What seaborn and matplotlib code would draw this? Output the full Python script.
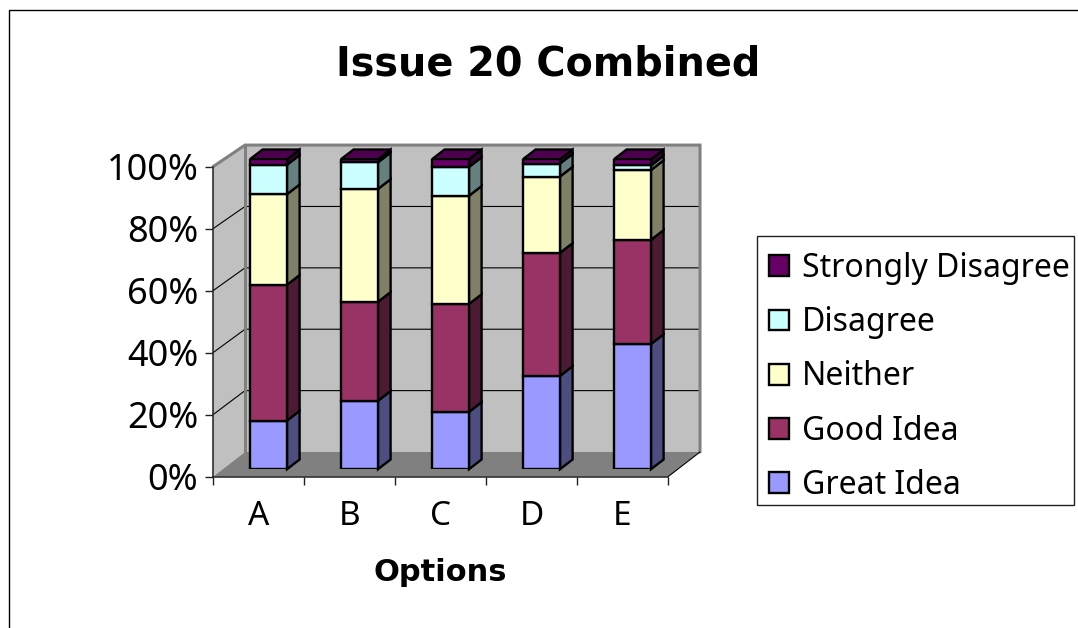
import matplotlib
matplotlib.use("Agg")
import matplotlib.pyplot as plt
import matplotlib.patches as mpatches
import seaborn as sns

categories = ["A", "B", "C", "D", "E"]
great_idea = [15.7, 22.1, 18.5, 30.1, 40.4]
good_idea = [43.8, 31.9, 34.8, 39.7, 33.6]
neither = [29.2, 36.4, 34.9, 24.6, 22.5]
disagree = [9.5, 8.6, 9.3, 4.2, 1.5]
strongly_disagree = [1.8, 1.0, 2.5, 1.4, 2.0]

series_names = ["Great Idea", "Good Idea", "Neither", "Disagree", "Strongly Disagree"]
series_values = [great_idea, good_idea, neither, disagree, strongly_disagree]
front_colors = ["#9999FF", "#993366", "#FFFFCC", "#CCFFFF", "#660066"]
side_colors = ["#4D4D80", "#4D1A33", "#808066", "#668080", "#330033"]
top_color = "#4D004D"
y_ticks = [0, 20, 40, 60, 80, 100]

W, H = 1078, 628
BOLD_FONT = "DejaVu Sans"

sns.set_style("white")
plt.rcParams["font.family"] = ["Noto Sans", "DejaVu Sans"]
plt.rcParams["text.color"] = "black"
plt.rcParams["axes.labelcolor"] = "black"
plt.rcParams["xtick.labelcolor"] = "black"
plt.rcParams["ytick.labelcolor"] = "black"

PX_X = 91.0   # pixels per category
PX_Y = 3.1    # pixels per percent
EDGE = 1.7


def axes_rect(left, top, width, height):
    return [left / W, 1 - (top + height) / H, width / W, height / H]


def back_y(t):
    # back wall is a touch shorter than the front plane
    return 7.97 + 0.99 * t


fig = plt.figure(figsize=(W / 100, H / 100), dpi=100, facecolor="white")
fig.add_artist(mpatches.Rectangle((9 / W, -0.05), 1.2, 1.05 - 10 / H, transform=fig.transFigure,
                                  fill=False, edgecolor="black", linewidth=1))

# front plane of the box: axis lines, ticks and labels live here
ax = fig.add_axes(axes_rect(213, 166.7, 455, 310))
ax.set_xlim(-0.5, 4.5)
ax.set_ylim(0, 100)
ax.patch.set_alpha(0)

wall_dx = 32 / PX_X
x0, x1 = -0.5, 4.5
bx0, bx1 = x0 + wall_dx, x1 + wall_dx
y_lo, y_hi = back_y(0), back_y(100)

ax.fill([x0, bx0, bx0, x0], [0, y_lo, y_hi, 100], color="#C0C0C0", lw=0, clip_on=False, zorder=1)
ax.fill([bx0, bx1, bx1, bx0], [y_lo, y_lo, y_hi, y_hi], color="#C0C0C0", lw=0, clip_on=False, zorder=1)
ax.fill([x0, x1, bx1, bx0], [0, 0, y_lo, y_lo], color="#808080", lw=0, clip_on=False, zorder=1)

for t in y_ticks[1:-1]:
    ax.plot([x0, bx0, bx1], [t, back_y(t), back_y(t)], color="black", lw=0.8, clip_on=False, zorder=2)
ax.plot([x0, bx0, bx1, bx1], [100, y_hi, y_hi, y_lo], color="#808080", lw=2.2,
        clip_on=False, zorder=2, solid_joinstyle="miter")
ax.plot([bx0, bx0], [y_lo, y_hi], color="#808080", lw=2.2, clip_on=False, zorder=2)
ax.plot([x1, bx1], [0, y_lo], color="black", lw=0.8, clip_on=False, zorder=2)

sns.despine(ax=ax, top=True, right=True)
for side in ["left", "bottom"]:
    ax.spines[side].set_color("#202020")
    ax.spines[side].set_linewidth(1.1)
    ax.spines[side].set_zorder(3)
ax.set_yticks(y_ticks)
ax.set_yticklabels([f"{t}%" for t in y_ticks], fontsize=26)
ax.set_xticks(range(len(categories)))
ax.set_xticklabels(categories, fontsize=24)
ax.set_xticks([i - 0.5 for i in range(len(categories) + 1)], minor=True)
ax.tick_params(axis="y", direction="out", length=5.6, width=1, color="#202020", left=True, pad=5)
ax.tick_params(axis="x", which="major", length=0, pad=17)
ax.tick_params(axis="x", which="minor", direction="out", length=5.6, width=1, color="#202020", bottom=True)
ax.set_xlabel("Options", fontsize=22, fontweight="bold", family=BOLD_FONT, labelpad=18)
ax.set_ylabel("")

# bars stand a little behind the front plane
bar_ax = fig.add_axes(axes_rect(223, 159.2, 455, 310))
bar_ax.patch.set_alpha(0)
bar_ax.set_axis_off()

depth_x = 12.6 / PX_X
depth_y = 9.7 / PX_Y
bar_w = 37 / PX_X

bottoms = [0.0] * len(categories)
for name, vals, fc, sc in zip(series_names, series_values, front_colors, side_colors):
    sns.barplot(x=categories, y=vals, bottom=bottoms, color=fc, saturation=1, width=bar_w,
                edgecolor="black", linewidth=EDGE, ax=bar_ax, legend=False, zorder=5)
    for i, (v, b) in enumerate(zip(vals, bottoms)):
        r = i + bar_w / 2
        bar_ax.fill([r, r + depth_x, r + depth_x, r],
                    [b, b + depth_y, b + v + depth_y, b + v],
                    facecolor=sc, edgecolor="black", linewidth=EDGE, clip_on=False, zorder=4)
    bottoms = [b + v for b, v in zip(bottoms, vals)]

for i, top in enumerate(bottoms):
    l, r = i - bar_w / 2, i + bar_w / 2
    bar_ax.fill([l, r, r + depth_x, l + depth_x],
                [top, top, top + depth_y, top + depth_y],
                facecolor=top_color, edgecolor="black", linewidth=EDGE, clip_on=False, zorder=4)

bar_ax.set_xlim(-0.5, 4.5)
bar_ax.set_ylim(0, 100)

fig.text(548 / W, 1 - 64 / H, "Issue 20 Combined", fontsize=28.6, fontweight="bold", family=BOLD_FONT,
         ha="center", va="center")

# legend box
fig.add_artist(mpatches.Rectangle((757 / W, 1 - 505 / H), 317 / W, 269 / H, transform=fig.transFigure,
                                  facecolor="white", edgecolor="#202020", linewidth=1, zorder=1))
legend_handles = [mpatches.Patch(facecolor=c, edgecolor="black", linewidth=EDGE) for c in front_colors[::-1]]
leg = fig.legend(legend_handles, series_names[::-1], loc="upper left",
                 bbox_to_anchor=(769 / W, 1 - 252 / H), bbox_transform=fig.transFigure,
                 fontsize=23, frameon=False, borderaxespad=0, borderpad=0, labelspacing=0.665,
                 handlelength=0.62, handleheight=0.62, handletextpad=0.4)
leg.set_zorder(2)

fig.savefig("out.png", dpi=100)
